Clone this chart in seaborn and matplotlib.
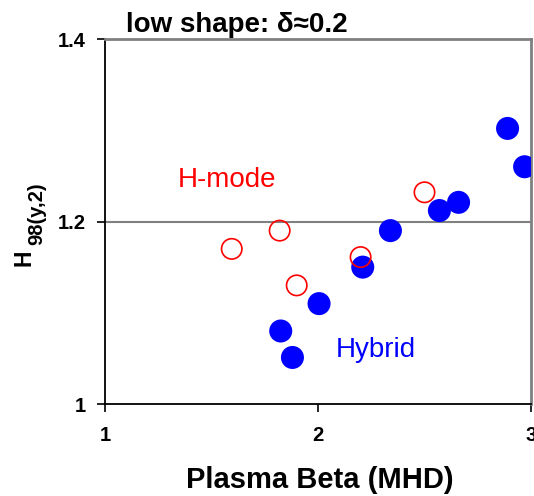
import matplotlib
matplotlib.use("Agg")
import matplotlib.pyplot as plt
import seaborn as sns
import pandas as pd

# Data
hybrid_beta = [2.89, 2.97, 2.66, 2.57, 2.34, 2.21, 2.005, 1.825, 1.88]
hybrid_h98 = [1.302, 1.260, 1.221, 1.212, 1.190, 1.150, 1.110, 1.080, 1.051]
hmode_beta = [2.50, 1.82, 1.595, 2.20, 1.90]
hmode_h98 = [1.232, 1.190, 1.170, 1.161, 1.130]

x_ticks = [1, 2, 3]
y_ticks = [1.0, 1.2, 1.4]
y_tick_labels = ["1", "1.2", "1.4"]

sns.set_style("white")
plt.rcParams["font.family"] = ["Liberation Sans", "DejaVu Sans"]
plt.rcParams["text.color"] = "black"
plt.rcParams["xtick.color"] = "black"
plt.rcParams["ytick.color"] = "black"

df_h = pd.DataFrame({"beta": hybrid_beta, "h98": hybrid_h98})
df_m = pd.DataFrame({"beta": hmode_beta, "h98": hmode_h98})

W, H = 534, 496
fig = plt.figure(figsize=(W / 100, H / 100), dpi=100)
ax = fig.add_axes([105 / W, 1 - 404 / H, (531 - 105) / W, (404 - 39) / H])

# horizontal gridline at 1.2
ax.axhline(1.2, color="#808080", lw=1.5, zorder=1)

sns.scatterplot(data=df_h, x="beta", y="h98", ax=ax, s=275, color="#0000FF",
                edgecolor="none", linewidth=0, zorder=3, legend=False)
sns.scatterplot(data=df_m, x="beta", y="h98", ax=ax, s=215, facecolor="none",
                edgecolor="#FF0000", linewidth=1.2, zorder=4, legend=False)

ax.set_xlim(1, 3)
ax.set_ylim(1.0, 1.4)
ax.set_xticks(x_ticks)
ax.set_xticklabels([str(t) for t in x_ticks])
ax.set_yticks(y_ticks)
ax.set_yticklabels(y_tick_labels)
ax.tick_params(axis="both", direction="out", length=6, width=1.2, color="black",
               labelsize=14.5, labelcolor="black", bottom=True, left=True)
ax.tick_params(axis="x", pad=10)
ax.tick_params(axis="y", pad=8)
for lab in ax.get_xticklabels() + ax.get_yticklabels():
    lab.set_fontweight("bold")

for side in ["left", "bottom"]:
    ax.spines[side].set_color("black")
    ax.spines[side].set_linewidth(1.3)
for side in ["top", "right"]:
    ax.spines[side].set_color("#808080")
    ax.spines[side].set_linewidth(2)
    ax.spines[side].set_visible(True)

ax.set_xlabel("")
ax.set_ylabel("")

# labels
fig.text(320 / W, 1 - 488 / H, "Plasma Beta (MHD)", fontsize=21, fontweight="bold",
         ha="center", va="baseline")
fig.text(126 / W, 1 - 32 / H, "low shape: δ≈0.2", fontsize=20, fontweight="bold",
         ha="left", va="baseline")
fig.text(36 / W, 1 - 258 / H, "H", fontsize=16.5, fontweight="bold", rotation=90,
         ha="right", va="center")
fig.text(46 / W, 1 - 214 / H, "98(y,2)", fontsize=14.5, fontweight="bold", rotation=90,
         ha="right", va="center")

# annotations
fig.text(178 / W, 1 - 187 / H, "H-mode", fontsize=20, color="#FF0000",
         ha="left", va="baseline")
fig.text(336 / W, 1 - 357 / H, "Hybrid", fontsize=20, color="#0000FF",
         ha="left", va="baseline")

fig.savefig("out.png", dpi=100)
